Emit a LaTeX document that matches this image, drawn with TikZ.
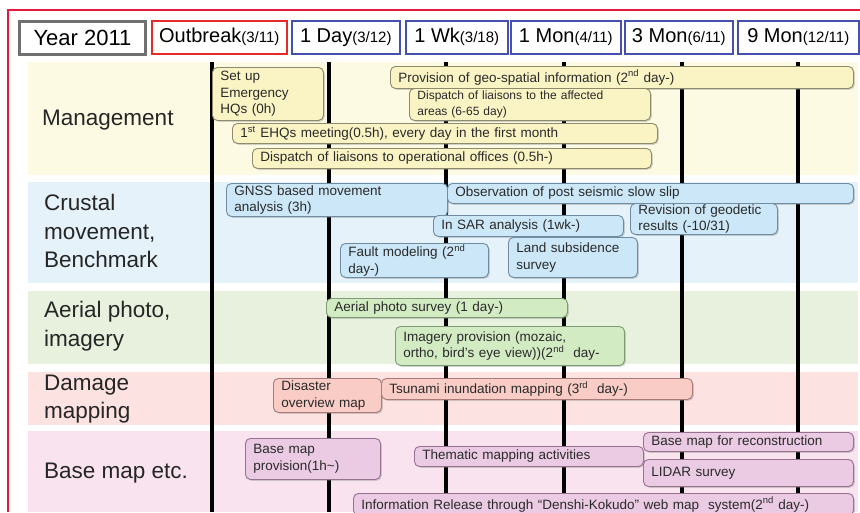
\documentclass[tikz,border=0pt]{standalone}
\usepackage{fontspec}
\setmainfont{Liberation Sans}
\usetikzlibrary{shadows}

\definecolor{framered}{HTML}{E8173F}
\definecolor{outred}{HTML}{E52A2A}
\definecolor{headblue}{HTML}{4650AE}
\definecolor{headgray}{HTML}{707070}
\definecolor{mgmtband}{HTML}{FDFAE4}
\definecolor{crustband}{HTML}{E5F2FA}
\definecolor{aerialband}{HTML}{E7F1DD}
\definecolor{damageband}{HTML}{FCE2E0}
\definecolor{baseband}{HTML}{F8E3EE}
\definecolor{mgmtfill}{HTML}{FAF3C4}
\definecolor{mgmtline}{HTML}{8E8B6C}
\definecolor{crustfill}{HTML}{CCE7F7}
\definecolor{crustline}{HTML}{6F8CA2}
\definecolor{aerialfill}{HTML}{D3EBC3}
\definecolor{aerialline}{HTML}{7E9C74}
\definecolor{damagefill}{HTML}{F9CDC6}
\definecolor{damageline}{HTML}{A87A78}
\definecolor{basefill}{HTML}{EBCBE4}
\definecolor{baseline}{HTML}{977290}
\definecolor{tasktext}{HTML}{2A2A2A}

\newcommand{\tasksize}{\fontsize{13.5}{16.5}\selectfont}
\newcommand{\smalltask}{\fontsize{12}{15.5}\selectfont}
\newcommand{\headsize}{\fontsize{20}{24}\selectfont}
\newcommand{\datesize}{\fontsize{15}{18}\selectfont}
\newcommand{\rowsize}{\fontsize{22.5}{28.5}\selectfont}

% box from (x1,y1) to (x2,y2)
\newcommand{\taskbox}[7]{%
	\pgfmathsetmacro{\boxw}{#5-#3}%
	\pgfmathsetmacro{\boxh}{#6-#4}%
	\pgfmathsetmacro{\textw}{#5-#3-16}%
	\node[task, #1, minimum width=\boxw pt, minimum height=\boxh pt, text width=\textw pt] (#2) at (#3,#4) {#7};}

% header box from x1 to x2
\newcommand{\headbox}[5]{%
	\pgfmathsetmacro{\boxw}{#4-#3}%
	\node[head, #1, minimum width=\boxw pt] (#2) at (#3,20) {#5};}

\tikzset{
	task/.style={draw, rounded corners=5pt, line width=0.9pt, anchor=north west, inner xsep=8pt, inner ysep=0pt, align=left, font=\tasksize, text=tasktext,
		drop shadow={shadow xshift=1.3pt, shadow yshift=-1.3pt, opacity=0.35}},
	mgmt/.style={fill=mgmtfill, draw=mgmtline},
	crust/.style={fill=crustfill, draw=crustline},
	aerial/.style={fill=aerialfill, draw=aerialline},
	damage/.style={fill=damagefill, draw=damageline},
	basemap/.style={fill=basefill, draw=baseline},
	head/.style={draw=headblue, fill=white, line width=1.6pt, anchor=north west, inner sep=0pt, minimum height=33pt, font=\headsize},
	rowlabel/.style={anchor=west, align=left, inner xsep=0pt, font=\rowsize, text=black!85}
}

\begin{document}
\begin{tikzpicture}[x=1pt,y=-1pt]
	\useasboundingbox (0,0) rectangle (860,512);
	\fill[white] (0,0) rectangle (860,512);
	
	% frame
	\draw[framered, line width=2.5pt] (8,512) -- (8,10) -- (860,10);
	
	% header
	\headbox{draw=headgray, line width=3pt, font=\fontsize{22}{26}\selectfont}{year}{18}{144}{Year 2011}
	\headbox{draw=outred}{outbreak}{151}{286}{Outbreak{\datesize(3/11)}}
	\headbox{}{oneday}{291}{399}{1 Day{\datesize(3/12)}}
	\headbox{}{onewk}{405}{507}{1 Wk{\datesize(3/18)}}
	\headbox{}{onemon}{510}{620}{1 Mon{\datesize(4/11)}}
	\headbox{}{threemon}{624}{732}{3 Mon{\datesize(6/11)}}
	\headbox{}{ninemon}{737}{858}{9 Mon{\datesize(12/11)}}
	
	% bands
	\fill[mgmtband]   (28,62) rectangle (858,175);
	\fill[crustband]  (28,182) rectangle (858,283);
	\fill[aerialband] (28,291) rectangle (858,364);
	\fill[damageband] (28,372) rectangle (858,425);
	\fill[baseband]   (28,431) rectangle (858,512);
	
	\node[rowlabel] (lmgmt) at (42,120) {Management};
	\node[rowlabel] (lcrust) at (44,231) {Crustal\\movement,\\Benchmark};
	\node[rowlabel] (laerial) at (44,326) {Aerial photo,\\imagery};
	\node[rowlabel] (ldamage) at (44,399) {Damage\\mapping};
	\node[rowlabel] (lbase) at (44,473) {Base map etc.};
	
	% time lines
	\foreach \x in {212,329,446,564,682,798}
		\draw[line width=3.5pt] (\x,62) -- (\x,512);
	
	% management
	\taskbox{mgmt}{sethq}{212}{67}{323}{120}{Set up\\Emergency\\HQs (0h)}
	\taskbox{mgmt}{geoinfo}{390}{66}{853}{88}{Provision of geo-spatial information (2\textsuperscript{nd} day-)}
	\taskbox{mgmt, font=\smalltask}{liaisonarea}{409}{88}{650}{120}{Dispatch of liaisons to the affected\\areas (6-65 day)}
	\taskbox{mgmt}{ehqmeet}{232}{123}{657}{143}{1\textsuperscript{st} EHQs meeting(0.5h), every day in the first month}
	\taskbox{mgmt}{liaisonoffice}{252}{148}{651}{168}{Dispatch of liaisons to operational offices (0.5h-)}
	
	% crustal movement
	\taskbox{crust}{gnss}{226}{183}{447}{216}{GNSS based movement\\analysis (3h)}
	\taskbox{crust}{slowslip}{447}{183}{853}{203}{Observation of post seismic slow slip}
	\taskbox{crust}{insar}{433}{215}{623}{236}{In SAR analysis (1wk-)}
	\taskbox{crust}{geodetic}{630}{203}{777}{234}{Revision of geodetic\\results (-10/31)}
	\taskbox{crust}{fault}{340}{243}{488}{277}{Fault modeling (2\textsuperscript{nd}\\day-)}
	\taskbox{crust}{subsid}{508}{237}{637}{277}{Land subsidence\\survey}
	
	% aerial photo
	\taskbox{aerial}{aerialsurvey}{326}{298}{567}{317}{Aerial photo survey (1 day-)}
	\taskbox{aerial}{imagery}{395}{326}{624}{365}{Imagery provision (mozaic,\\ortho, bird's eye view))(2\textsuperscript{nd}\ \ day-}
	
	% damage mapping
	\taskbox{damage}{overview}{273}{378}{381}{412}{Disaster\\overview map}
	\taskbox{damage}{tsunami}{381}{378}{692}{399}{Tsunami inundation mapping (3\textsuperscript{rd}\ \ day-)}
	
	% base map
	\taskbox{basemap}{baseprov}{245}{438}{380}{479}{Base map\\provision(1h\textasciitilde)}
	\taskbox{basemap}{thematic}{414}{446}{643}{466}{Thematic mapping activities}
	\taskbox{basemap}{reconstr}{643}{432}{853}{451}{Base map for reconstruction}
	\taskbox{basemap}{lidar}{643}{459}{853}{486}{LIDAR survey}
	\taskbox{basemap}{release}{353}{493}{853}{515}{Information Release through ``Denshi-Kokudo'' web map\ \ system(2\textsuperscript{nd} day-)}
	
\end{tikzpicture}
\end{document}
